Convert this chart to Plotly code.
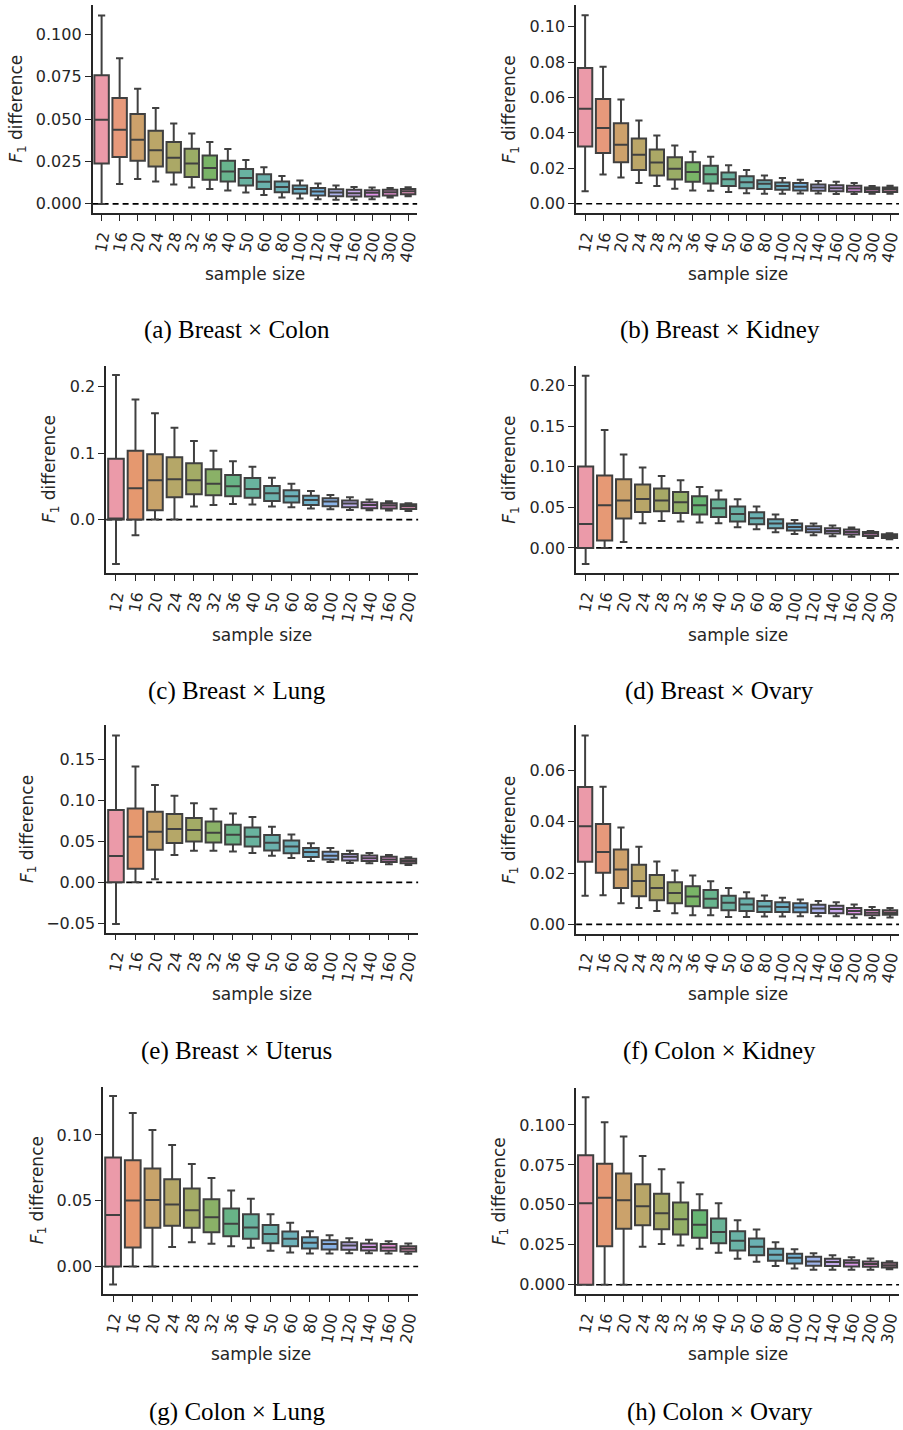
import colorsys
import math
import numpy as np
import plotly.graph_objects as go

# ---------------- data ----------------
SIZES_18 = ["12", "16", "20", "24", "28", "32", "36", "40", "50", "60", "80",
            "100", "120", "140", "160", "200", "300", "400"]
SIZES_17 = SIZES_18[:17]
SIZES_16 = SIZES_18[:16]

# (a) Breast x Colon
A_LO = [0.0, 0.0118, 0.0147, 0.0132, 0.0114, 0.0096, 0.0088, 0.0079, 0.0067, 0.0053, 0.0037, 0.0031, 0.0028, 0.0024, 0.0024, 0.0028, 0.0037, 0.0045]
A_Q1 = [0.0238, 0.0277, 0.0255, 0.022, 0.0185, 0.0159, 0.0143, 0.0132, 0.0108, 0.0088, 0.0069, 0.0061, 0.0049, 0.0045, 0.0043, 0.0043, 0.0049, 0.0057]
A_MED = [0.0497, 0.0438, 0.0379, 0.0316, 0.0273, 0.0238, 0.0212, 0.0191, 0.0153, 0.013, 0.01, 0.0088, 0.0073, 0.0067, 0.0063, 0.0065, 0.0069, 0.0075]
A_Q3 = [0.076, 0.0625, 0.053, 0.0432, 0.0365, 0.0326, 0.0285, 0.0255, 0.0206, 0.0175, 0.0132, 0.0108, 0.0094, 0.0086, 0.0083, 0.0081, 0.0083, 0.0088]
A_HI = [0.1112, 0.086, 0.068, 0.0566, 0.0475, 0.0415, 0.0365, 0.0324, 0.0259, 0.0216, 0.0165, 0.0138, 0.012, 0.0108, 0.01, 0.0096, 0.0094, 0.0098]

# (b) Breast x Kidney
B_LO = [0.0071, 0.0165, 0.0148, 0.0117, 0.01, 0.0085, 0.0075, 0.0073, 0.0066, 0.006, 0.0056, 0.0056, 0.0058, 0.0058, 0.0055, 0.0055, 0.0056, 0.0056]
B_Q1 = [0.0323, 0.0286, 0.0235, 0.019, 0.016, 0.0137, 0.0124, 0.0115, 0.01, 0.0088, 0.0083, 0.0079, 0.0075, 0.0073, 0.007, 0.0068, 0.0066, 0.0066]
B_MED = [0.0536, 0.0427, 0.0333, 0.0276, 0.0233, 0.0197, 0.018, 0.0167, 0.0139, 0.0122, 0.0113, 0.01, 0.0096, 0.0092, 0.0088, 0.0086, 0.0081, 0.0081]
B_Q3 = [0.0767, 0.0592, 0.0455, 0.0368, 0.0306, 0.0263, 0.0235, 0.0214, 0.0177, 0.0156, 0.0133, 0.012, 0.0117, 0.0109, 0.0105, 0.0102, 0.0092, 0.0092]
B_HI = [0.1064, 0.0773, 0.0588, 0.047, 0.0385, 0.0329, 0.0293, 0.0265, 0.0218, 0.019, 0.016, 0.0145, 0.0135, 0.0128, 0.0124, 0.0117, 0.01, 0.0102]

# (c) Breast x Lung
C_LO = [-0.0665, -0.0235, 0.0, 0.0, 0.0195, 0.022, 0.0235, 0.0225, 0.0195, 0.0185, 0.0165, 0.0155, 0.0145, 0.014, 0.0135, 0.013]
C_Q1 = [0.0, 0.0, 0.014, 0.0335, 0.038, 0.0365, 0.035, 0.033, 0.028, 0.0255, 0.022, 0.02, 0.0185, 0.017, 0.0165, 0.016]
C_MED = [0.0, 0.047, 0.059, 0.0605, 0.059, 0.054, 0.05, 0.046, 0.0395, 0.035, 0.0295, 0.027, 0.024, 0.022, 0.021, 0.02]
C_Q3 = [0.0915, 0.1035, 0.098, 0.0935, 0.0845, 0.0755, 0.067, 0.0625, 0.0505, 0.044, 0.036, 0.032, 0.0285, 0.026, 0.0245, 0.023]
C_HI = [0.217, 0.1805, 0.1595, 0.138, 0.118, 0.1035, 0.0875, 0.0795, 0.063, 0.054, 0.043, 0.037, 0.0335, 0.03, 0.0275, 0.0245]

# (d) Breast x Ovary
D_LO = [-0.0197, 0.0, 0.0074, 0.0304, 0.0333, 0.0324, 0.0312, 0.0304, 0.0255, 0.023, 0.0193, 0.0172, 0.0156, 0.0144, 0.0136, 0.0123, 0.0107]
D_Q1 = [0.0, 0.009, 0.0361, 0.0444, 0.0452, 0.0431, 0.0411, 0.0382, 0.0324, 0.0292, 0.0242, 0.0214, 0.0193, 0.0177, 0.0164, 0.0148, 0.0123]
D_MED = [0.0296, 0.0526, 0.0583, 0.0604, 0.0583, 0.0563, 0.0526, 0.0489, 0.0419, 0.0366, 0.03, 0.0259, 0.023, 0.0209, 0.0197, 0.0177, 0.0144]
D_Q3 = [0.1002, 0.0891, 0.0846, 0.078, 0.0731, 0.069, 0.0637, 0.0595, 0.0509, 0.0439, 0.0353, 0.03, 0.0267, 0.0242, 0.0226, 0.0197, 0.0168]
D_HI = [0.2123, 0.1454, 0.115, 0.099, 0.0887, 0.0834, 0.0752, 0.0706, 0.06, 0.0509, 0.0411, 0.0345, 0.03, 0.0275, 0.025, 0.0209, 0.0181]

# (e) Breast x Uterus
E_LO = [-0.0508, 0.0, 0.0037, 0.0333, 0.0386, 0.0386, 0.0378, 0.0358, 0.0325, 0.0297, 0.026, 0.0248, 0.0236, 0.0232, 0.022, 0.0211]
E_Q1 = [0.0, 0.0167, 0.0398, 0.048, 0.05, 0.0488, 0.0463, 0.0439, 0.039, 0.0354, 0.0309, 0.028, 0.0268, 0.026, 0.0248, 0.0232]
E_MED = [0.0321, 0.0557, 0.0618, 0.065, 0.0638, 0.0606, 0.0581, 0.0557, 0.0484, 0.0439, 0.037, 0.0325, 0.0313, 0.0293, 0.028, 0.026]
E_Q3 = [0.0882, 0.0902, 0.0862, 0.0833, 0.0785, 0.0744, 0.0703, 0.0671, 0.0577, 0.0512, 0.0419, 0.0374, 0.0346, 0.0329, 0.0313, 0.0289]
E_HI = [0.1793, 0.1415, 0.1187, 0.1057, 0.0967, 0.0898, 0.0841, 0.0797, 0.0679, 0.0585, 0.0476, 0.0419, 0.0386, 0.0358, 0.0333, 0.0305]

# (f) Colon x Kidney
F_LO = [0.0112, 0.0114, 0.0082, 0.0064, 0.0052, 0.0043, 0.0036, 0.0036, 0.0029, 0.0029, 0.0031, 0.0031, 0.0032, 0.0032, 0.0032, 0.0026, 0.0025, 0.0027]
F_Q1 = [0.0244, 0.0201, 0.0142, 0.011, 0.0094, 0.0082, 0.0071, 0.0065, 0.0055, 0.0052, 0.0048, 0.0048, 0.0047, 0.0044, 0.0043, 0.004, 0.0036, 0.0038]
F_MED = [0.0382, 0.0282, 0.0214, 0.0169, 0.0142, 0.0122, 0.0109, 0.01, 0.0084, 0.0078, 0.007, 0.0068, 0.0066, 0.0062, 0.006, 0.0052, 0.0045, 0.0045]
F_Q3 = [0.0535, 0.0391, 0.0292, 0.0232, 0.0192, 0.0164, 0.0149, 0.0134, 0.0112, 0.0101, 0.0091, 0.0086, 0.0082, 0.0077, 0.0073, 0.0064, 0.0056, 0.0055]
F_HI = [0.0736, 0.0536, 0.0378, 0.0303, 0.0245, 0.021, 0.0191, 0.0168, 0.0142, 0.0125, 0.0113, 0.0104, 0.0097, 0.0091, 0.0086, 0.0078, 0.0068, 0.0064]

# (g) Colon x Lung
G_LO = [-0.0137, 0.0, 0.0, 0.0149, 0.0185, 0.0172, 0.0154, 0.0142, 0.0119, 0.0106, 0.0099, 0.0099, 0.0101, 0.0101, 0.0099, 0.0096]
G_Q1 = [0.0, 0.0144, 0.0294, 0.0309, 0.0294, 0.0261, 0.023, 0.021, 0.0177, 0.0154, 0.0137, 0.0129, 0.0127, 0.0122, 0.0119, 0.0114]
G_MED = [0.0392, 0.0501, 0.0506, 0.0471, 0.0428, 0.0375, 0.0324, 0.0296, 0.0246, 0.021, 0.018, 0.017, 0.0159, 0.0149, 0.0144, 0.0134]
G_Q3 = [0.0828, 0.0808, 0.0744, 0.0663, 0.0592, 0.0511, 0.044, 0.0397, 0.0316, 0.0266, 0.0223, 0.02, 0.0185, 0.0175, 0.017, 0.0154]
G_HI = [0.1296, 0.1167, 0.1038, 0.0924, 0.078, 0.0673, 0.0577, 0.0514, 0.0397, 0.0332, 0.0268, 0.0238, 0.0215, 0.0203, 0.0192, 0.0175]

# (h) Colon x Ovary
H_LO = [0.0, 0.0, 0.0, 0.0238, 0.0256, 0.0246, 0.0225, 0.02, 0.0163, 0.0144, 0.0117, 0.0102, 0.0094, 0.0094, 0.0094, 0.0094, 0.0098]
H_Q1 = [0.0, 0.0242, 0.035, 0.0373, 0.0348, 0.0315, 0.0294, 0.026, 0.0215, 0.0185, 0.015, 0.0133, 0.0119, 0.0117, 0.0115, 0.0113, 0.0108]
H_MED = [0.051, 0.0544, 0.0529, 0.0492, 0.0448, 0.041, 0.0375, 0.0331, 0.0275, 0.0238, 0.0188, 0.0169, 0.0146, 0.0142, 0.0138, 0.0131, 0.0123]
H_Q3 = [0.081, 0.0758, 0.0696, 0.0629, 0.0569, 0.0515, 0.0467, 0.0415, 0.0335, 0.029, 0.0225, 0.0194, 0.0175, 0.0163, 0.0154, 0.0146, 0.0138]
H_HI = [0.1173, 0.1017, 0.0927, 0.0806, 0.0723, 0.064, 0.0567, 0.051, 0.0404, 0.0346, 0.0267, 0.0223, 0.0198, 0.0185, 0.0173, 0.0165, 0.0148]

CAPTIONS = ["(a) Breast × Colon", "(b) Breast × Kidney", "(c) Breast × Lung",
            "(d) Breast × Ovary", "(e) Breast × Uterus", "(f) Colon × Kidney",
            "(g) Colon × Lung", "(h) Colon × Ovary"]

# ---------------- seaborn-like husl palette ----------------
_M = [[3.2406, -1.5372, -0.4986], [-0.9689, 1.8758, 0.0415], [0.0557, -0.2040, 1.0570]]
_REFY, _REFU, _REFV, _LAB_E, _LAB_K = 1.0, 0.19784, 0.46834, 0.008856, 903.3


def _max_chroma(L, H):
    hrad = math.radians(H)
    sinH, cosH = math.sin(hrad), math.cos(hrad)
    sub1 = (L + 16) ** 3 / 1560896.0
    sub2 = sub1 if sub1 > _LAB_E else L / _LAB_K
    result = float("inf")
    for m1, m2, m3 in _M:
        top = (0.99915 * m1 + 1.05122 * m2 + 1.14460 * m3) * sub2
        rbottom = 0.86330 * m3 - 0.17266 * m2
        lbottom = 0.12949 * m3 - 0.38848 * m1
        bottom = (rbottom * sinH + lbottom * cosH) * sub2
        for t in (0.0, 1.0):
            C = L * (top - 1.05122 * t) / (bottom + 0.17266 * sinH * t)
            if 0 < C < result:
                result = C
    return result


def _husl_to_rgb(h, s, l):
    C = _max_chroma(l, h) / 100.0 * s
    U = C * math.cos(math.radians(h))
    V = C * math.sin(math.radians(h))
    varY = _REFY * ((l + 16) / 116.0) ** 3 if l > 8 else _REFY * l / _LAB_K
    varU = U / (13 * l) + _REFU
    varV = V / (13 * l) + _REFV
    Y = varY * _REFY
    X = -(9 * Y * varU) / ((varU - 4) * varV - varU * varV)
    Z = (9 * Y - 15 * varV * Y - varV * X) / (3 * varV)
    out = []
    for row in _M:
        c = row[0] * X + row[1] * Y + row[2] * Z
        c = 12.92 * c if c <= 0.0031308 else 1.055 * c ** (1 / 2.4) - 0.055
        out.append(min(max(c, 0.0), 1.0))
    return out


def box_colors(n, sat=0.75, lighten=0.2):
    hues = (np.linspace(0, 1, n + 1)[:-1] + 0.01) % 1 * 359
    cols = []
    for hh in hues:
        r, g, b = _husl_to_rgb(hh, 0.9 * 99, 0.65 * 99)
        H, L, S = colorsys.rgb_to_hls(r, g, b)
        r, g, b = colorsys.hls_to_rgb(H, L, S * sat)
        cols.append((r, g, b))
    lum = min(colorsys.rgb_to_hls(*c)[1] for c in cols) * 0.6
    hexs = ["#%02x%02x%02x" % tuple(int(round((v * (1 - lighten) + lighten) * 255)) for v in c)
            for c in cols]
    gray = "#%02x%02x%02x" % ((int(round(lum * 255)),) * 3)
    return hexs, gray


# ---------------- layout geometry (pixels) ----------------
W, H = 903, 1430
PANELS = [
    dict(cats=SIZES_18, d=(A_LO, A_Q1, A_MED, A_Q3, A_HI), rng=[-0.0053, 0.1174], dtick=0.025, fmt=".3f",
         px=(92, 418), py=(5, 213), ytx=17, cap=(237, 330), xt=274),
    dict(cats=SIZES_18, d=(B_LO, B_Q1, B_MED, B_Q3, B_HI), rng=[-0.0053, 0.1122], dtick=0.02, fmt=".2f",
         px=(577.7, 902), py=(5, 213.3), ytx=511.7, cap=(721.7, 330), xt=274),
    dict(cats=SIZES_16, d=(C_LO, C_Q1, C_MED, C_Q3, C_HI), rng=[-0.08, 0.231], dtick=0.1, fmt=".1f",
         px=(105.7, 419), py=(366, 573.3), ytx=50, cap=(237, 691.5), xt=635),
    dict(cats=SIZES_17, d=(D_LO, D_Q1, D_MED, D_Q3, D_HI), rng=[-0.0308, 0.2245], dtick=0.05, fmt=".2f",
         px=(577.7, 902), py=(366, 573.3), ytx=511.7, cap=(721.7, 691.5), xt=635),
    dict(cats=SIZES_16, d=(E_LO, E_Q1, E_MED, E_Q3, E_HI), rng=[-0.0614, 0.1915], dtick=0.05, fmt=".2f",
         px=(105.7, 419), py=(726, 933.3), ytx=27, cap=(237, 1051.5), xt=995),
    dict(cats=SIZES_18, d=(F_LO, F_Q1, F_MED, F_Q3, F_HI), rng=[-0.0036, 0.0775], dtick=0.02, fmt=".2f",
         px=(577.7, 902), py=(726, 934.3), ytx=511.7, cap=(721.7, 1051.5), xt=995),
    dict(cats=SIZES_16, d=(G_LO, G_Q1, G_MED, G_Q3, G_HI), rng=[-0.021, 0.1368], dtick=0.05, fmt=".2f",
         px=(102.7, 419), py=(1087.3, 1295), ytx=37, cap=(237, 1412.5), xt=1355),
    dict(cats=SIZES_17, d=(H_LO, H_Q1, H_MED, H_Q3, H_HI), rng=[-0.0058, 0.1234], dtick=0.025, fmt=".3f",
         px=(577.7, 902), py=(1088.3, 1295), ytx=501.7, cap=(721.7, 1412.5), xt=1355),
]

TXT = "#262626"
TICKFONT = dict(family="DejaVu Sans", size=16, color=TXT)

fig = go.Figure()
layout = dict(width=W, height=H, margin=dict(l=0, r=0, t=0, b=0),
              paper_bgcolor="white", plot_bgcolor="rgba(0,0,0,0)",
              showlegend=False, boxmode="overlay")
annotations = []
shapes = []

for i, p in enumerate(PANELS, start=1):
    xa, ya = ("x" if i == 1 else f"x{i}"), ("y" if i == 1 else f"y{i}")
    cols, gray = box_colors(len(p["cats"]))
    lo, q1, med, q3, hi = p["d"]
    for j, cat in enumerate(p["cats"]):
        fig.add_trace(go.Box(
            x=[cat], q1=[q1[j]], median=[med[j]], q3=[q3[j]],
            lowerfence=[lo[j]], upperfence=[hi[j]],
            width=0.8, whiskerwidth=0.5, fillcolor=cols[j],
            line=dict(color=gray, width=2), boxpoints=False,
            xaxis=xa, yaxis=ya, hoverinfo="skip"))
    x0, x1 = p["px"]
    y0, y1 = p["py"]
    axkw = dict(showgrid=False, zeroline=False, showline=True, linecolor=TXT, linewidth=1.6,
                ticks="outside", ticklen=6, tickwidth=1.4, tickcolor=TXT, tickfont=TICKFONT)
    layout["xaxis" + ("" if i == 1 else str(i))] = dict(
        domain=[x0 / W, x1 / W], anchor=ya, type="category",
        categoryorder="array", categoryarray=p["cats"], range=[-0.5, len(p["cats"]) - 0.5],
        tickmode="array", tickvals=p["cats"], ticktext=p["cats"],
        tickangle=-80, **axkw)
    layout["yaxis" + ("" if i == 1 else str(i))] = dict(
        domain=[1 - y1 / H, 1 - y0 / H], anchor=xa, range=p["rng"],
        tick0=0, dtick=p["dtick"], tickformat=p["fmt"], **axkw)
    shapes.append(dict(type="line", xref=f"{xa} domain", yref=ya, x0=0, x1=1, y0=0, y1=0,
                       line=dict(color="black", width=1.6, dash="6px,4px"), layer="below"))
    # axis titles
    annotations.append(dict(text="sample size", xref="paper", yref="paper",
                            x=(x0 + x1) / 2 / W, y=1 - p["xt"] / H, showarrow=False,
                            xanchor="center", yanchor="middle",
                            font=dict(family="DejaVu Sans", size=17, color=TXT)))
    annotations.append(dict(text="<i>F</i><sub>1</sub> difference", xref="paper", yref="paper",
                            x=p["ytx"] / W, y=1 - (y0 + y1) / 2 / H, showarrow=False,
                            textangle=-90, xanchor="center", yanchor="middle",
                            font=dict(family="DejaVu Sans", size=17, color=TXT)))
    annotations.append(dict(text=CAPTIONS[i - 1], xref="paper", yref="paper",
                            x=p["cap"][0] / W, y=1 - p["cap"][1] / H, showarrow=False,
                            xanchor="center", yanchor="middle",
                            font=dict(family="Liberation Serif", size=25, color="black")))

layout["annotations"] = annotations
layout["shapes"] = shapes
fig.update_layout(**layout)
fig.write_html("out.html")
